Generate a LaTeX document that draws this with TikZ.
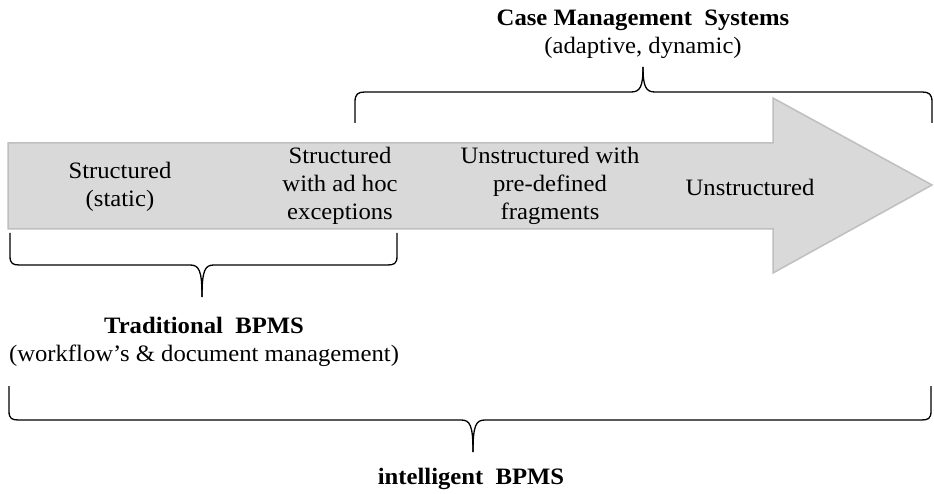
\documentclass[tikz,border=0pt]{standalone}
\usepackage{fontspec}
\setmainfont{Liberation Serif}[FakeStretch=1.05]
\definecolor{arrowfill}{HTML}{D9D9D9}
\definecolor{arrowline}{HTML}{BFBFBF}
\begin{document}
\begin{tikzpicture}[x=1pt,y=-1pt,
  lbl/.style={inner sep=0pt,align=center,font=\fontsize{23.5}{28}\selectfont},
  title/.style={inner sep=0pt,align=center,font=\fontsize{23.5}{28}\selectfont},
  bracepath/.style={draw=black,line width=1.3pt,line join=round}]
\useasboundingbox (0,0) rectangle (934,494);
% big arrow
\draw[fill=arrowfill,draw=arrowline,line width=1.5pt]
  (8,143) -- (773,143) -- (773,98) -- (932,185) -- (773,273) -- (773,229) -- (8,229) -- cycle;
% stage labels
\node[lbl] (s1) at (120,187) {Structured\\(static)};
\node[lbl] (s2) at (340,186) {Structured\\with ad hoc\\exceptions};
\node[lbl] (s3) at (550,186) {Unstructured with\\pre-defined\\fragments};
\node[lbl] (s4) at (750,187) {Unstructured};
% top brace (Case Management)
\draw[bracepath] (355,123) -- (355,102) .. controls (355,94) and (358,92) .. (365,92)
  -- (631,92) .. controls (640,92) and (643,87) .. (643,67);
\draw[bracepath] (932,123) -- (932,102) .. controls (932,94) and (929,92) .. (922,92)
  -- (655,92) .. controls (646,92) and (643,87) .. (643,67);
\node[title] (cms) at (643,34) {\textbf{Case Management\ \ Systems}\\(adaptive, dynamic)};
% bottom brace 1 (Traditional)
\draw[bracepath] (10,233) -- (10,256) .. controls (10,264) and (13,265) .. (20,265)
  -- (190,265) .. controls (199,265) and (202,270) .. (202,297);
\draw[bracepath] (397,233) -- (397,256) .. controls (397,264) and (394,265) .. (387,265)
  -- (214,265) .. controls (205,265) and (202,270) .. (202,297);
\node[title] (trad) at (204,342) {\textbf{Traditional\ \ BPMS}\\(workflow’s \& document management)};
% bottom brace 2 (intelligent)
\draw[bracepath] (9,386) -- (9,411) .. controls (9,419) and (12,420) .. (19,420)
  -- (461,420) .. controls (470,420) and (473,425) .. (473,452);
\draw[bracepath] (931,386) -- (931,411) .. controls (931,419) and (928,420) .. (921,420)
  -- (485,420) .. controls (476,420) and (473,425) .. (473,452);
\node[title] (ibpms) at (471,479) {\textbf{intelligent\ \ BPMS}};
\end{tikzpicture}
\end{document}
